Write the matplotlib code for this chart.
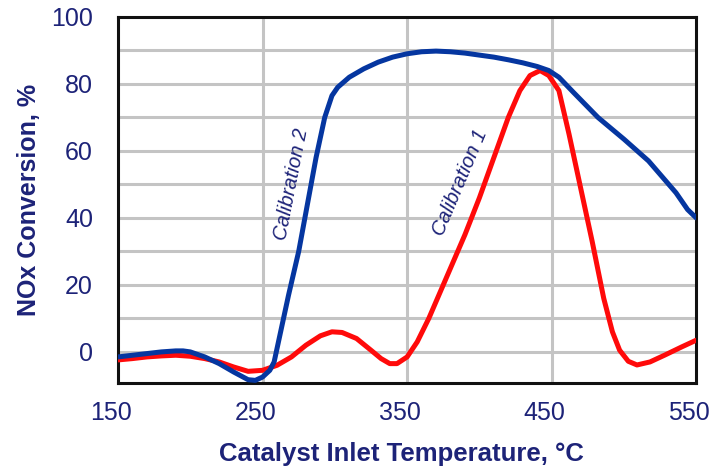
import matplotlib
matplotlib.use("Agg")
import matplotlib.pyplot as plt
from matplotlib.transforms import ScaledTranslation

# --- data ---
cal2_temp = [150, 160, 170, 180, 190, 195, 200, 210, 220, 230, 240, 245, 250, 255,
             258, 262, 268, 275, 281, 287, 293, 298, 302, 310, 320, 330, 340, 350,
             360, 370, 380, 390, 400, 410, 420, 430, 440, 448, 455, 465, 482, 500,
             517, 527, 536, 544, 550]
cal2_conv = [-1.5, -1.0, -0.5, 0.0, 0.3, 0.3, 0.0, -1.5, -3.5, -6.0, -8.3, -8.5, -7.5, -5.5,
             -3.0, 5.0, 17.0, 30.0, 44.0, 58.0, 70.0, 76.5, 79.0, 82.0, 84.5, 86.5, 88.0, 89.0,
             89.6, 89.8, 89.6, 89.2, 88.6, 88.0, 87.2, 86.3, 85.2, 84.0, 82.0, 77.5, 70.0, 63.5,
             57.0, 52.0, 47.5, 42.5, 40.0]

cal1_temp = [150, 160, 170, 180, 190, 200, 210, 220, 230, 240, 250, 260, 270, 280,
             290, 298, 305, 315, 325, 332, 338, 343, 350, 357, 365, 372, 380, 390,
             400, 410, 420, 428, 435, 442, 448, 455, 462, 470, 478, 486, 492, 497,
             503, 509, 518, 528, 540, 550]
cal1_conv = [-2.4, -2.0, -1.5, -1.2, -1.0, -1.3, -2.0, -3.0, -4.5, -5.8, -5.5, -4.0, -1.5, 2.0,
             4.8, 6.0, 5.8, 4.0, 0.5, -2.0, -3.5, -3.5, -1.5, 3.0, 10.0, 17.0, 25.0, 35.0,
             46.0, 58.0, 70.0, 78.0, 82.5, 84.0, 82.5, 78.0, 65.0, 49.0, 33.0, 16.0, 6.0, 0.5,
             -2.8, -3.9, -3.0, -1.0, 1.5, 3.5]

x_ticks = [150, 250, 350, 450, 550]
y_ticks = [0, 20, 40, 60, 80, 100]
y_grid = [0, 10, 20, 30, 40, 50, 60, 70, 80, 90]

NAVY = "#1d2378"
plt.rcParams["font.family"] = ["Liberation Sans", "DejaVu Sans"]

fig = plt.figure(figsize=(7.13, 4.70), dpi=100)
ax = fig.add_axes([0.1655, 0.185, 0.811, 0.779])

# grid drawn by hand: verticals only at the inner ticks
for yv in y_grid:
    ax.axhline(yv, color="#c4c4c4", lw=2.2, zorder=0)
for xv in x_ticks[1:-1]:
    ax.axvline(xv, color="#c4c4c4", lw=2.2, zorder=0)

ax.plot(cal1_temp, cal1_conv, color="#ff0a0a", lw=3.6, solid_capstyle="round", zorder=3)
ax.plot(cal2_temp, cal2_conv, color="#0536a0", lw=3.6, solid_capstyle="round", zorder=4)

ax.set_xlim(150, 550)
ax.set_ylim(-9.3, 100)
ax.set_xticks(x_ticks)
ax.set_yticks(y_ticks)
ax.tick_params(length=0, labelsize=18, labelcolor=NAVY)
ax.tick_params(axis="x", pad=13)
ax.tick_params(axis="y", pad=18)

# x tick labels sit a little left of their gridlines in the original
shift = ScaledTranslation(-7 / 100, 0, fig.dpi_scale_trans)
for lbl in ax.get_xticklabels():
    lbl.set_transform(lbl.get_transform() + shift)

for s in ax.spines.values():
    s.set_linewidth(2.2)
    s.set_color("#111111")

ax.set_xlabel("Catalyst Inlet Temperature, °C", fontsize=18.5, fontweight="bold",
              color=NAVY)
ax.xaxis.set_label_coords(0.49, -0.162)
ax.set_ylabel("NOx Conversion, %", fontsize=18, fontweight="bold", color=NAVY)
ax.yaxis.set_label_coords(-0.133, 0.5)

ax.text(269.7, 50, "Calibration 2", rotation=79, rotation_mode="anchor",
        ha="center", va="center", fontsize=14.5, style="italic", color=NAVY,
        family=["Liberation Sans Narrow", "Liberation Sans"], zorder=5)
ax.text(387, 50.5, "Calibration 1", rotation=67, rotation_mode="anchor",
        ha="center", va="center", fontsize=14.5, style="italic", color=NAVY,
        family=["Liberation Sans Narrow", "Liberation Sans"], zorder=5)

fig.savefig("out.png", dpi=100)
